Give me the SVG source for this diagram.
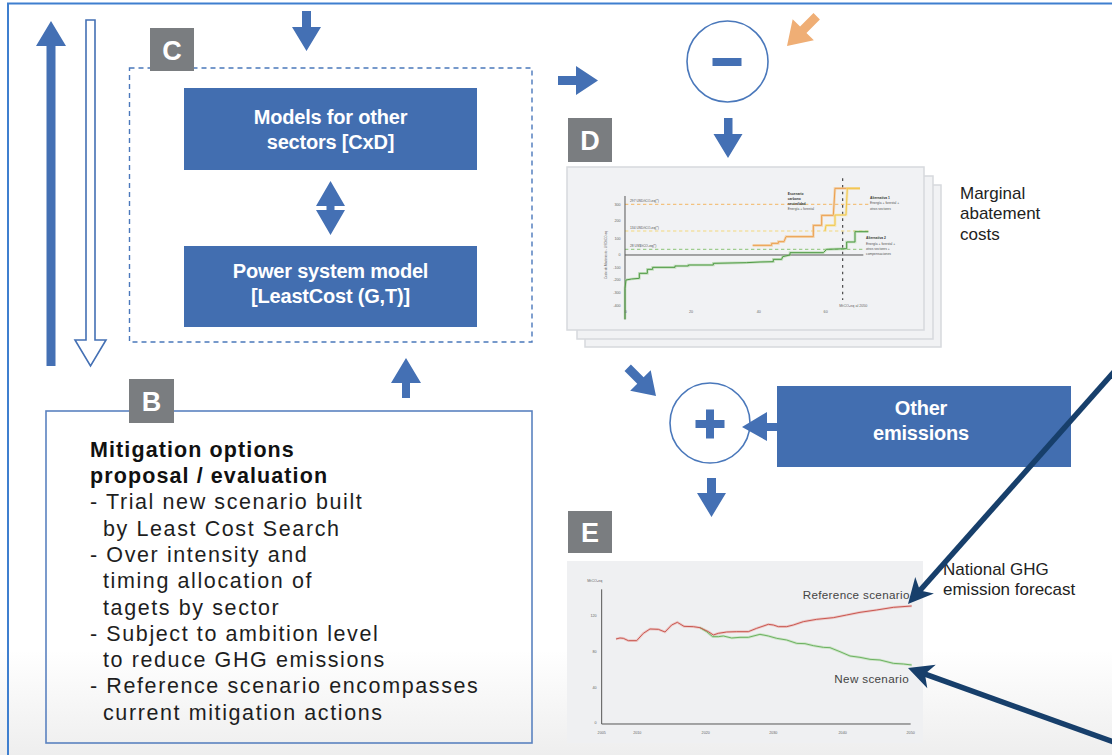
<svg xmlns="http://www.w3.org/2000/svg" width="1112" height="755" viewBox="0 0 1112 755">
  <style>
    .blue { fill: #4470b4; }
    .box { fill: #426eb0; }
    .boxtxt { font-family: "Liberation Sans", Arial, sans-serif; font-weight: bold; font-size: 20px; fill: #ffffff; text-anchor: middle; letter-spacing: -0.2px; }
    .badge { fill: #7a7d80; }
    .badgetxt { font-family: "Liberation Sans", Arial, sans-serif; font-weight: bold; font-size: 27px; fill: #ffffff; text-anchor: middle; }
    .ring { fill: none; stroke: #4a78bb; stroke-width: 1.6; }
    .card { fill: #f1f2f4; stroke: #d6d9dd; stroke-width: 1.5; }
    .body { font-family: "Liberation Sans", Arial, sans-serif; font-size: 21.5px; fill: #1e1e1e; letter-spacing: 1.6px; }
    .title { font-family: "Liberation Sans", Arial, sans-serif; font-size: 21.5px; font-weight: bold; fill: #111111; letter-spacing: 1.1px; }
    .side { font-family: "Liberation Sans", Arial, sans-serif; font-size: 17px; fill: #222222; }
    .tick { font-family: "Liberation Sans", Arial, sans-serif; font-size: 11px; fill: #666666; }
    .note { font-family: "Liberation Sans", Arial, sans-serif; font-size: 10px; fill: #555555; }
    .noteb { font-family: "Liberation Sans", Arial, sans-serif; font-size: 10px; fill: #333333; font-weight: bold; }
    .axis { stroke: #555555; stroke-width: 3; fill: none; }
    .navy { stroke: #173f6b; stroke-width: 5.5; fill: none; }
    .navyhead { fill: #173f6b; }
  </style>
  <defs>
    <linearGradient id="floor" x1="0" y1="0" x2="0" y2="1">
      <stop offset="0" stop-color="#ffffff"/>
      <stop offset="1" stop-color="#eeeeee"/>
    </linearGradient>
  </defs>

  <!-- page background with soft floor shading -->
  <rect x="0" y="0" width="1112" height="755" fill="#ffffff"/>
  <rect x="0" y="650" width="1112" height="105" fill="url(#floor)"/>

  <!-- outer frame -->
  <path d="M8,755 L8,3.5 L1112,3.5" fill="none" stroke="#3f7fcf" stroke-width="2"/>

  <!-- left-hand loop arrows -->
  <g id="loop-up">
    <polygon class="blue" points="51,21 66,46 55.5,46 55.5,366 46.5,366 46.5,46 36,46"/>
  </g>
  <g id="loop-down">
    <polygon points="86,20 95,20 95,340 106,340 90.5,366 75,340 86,340" fill="#ffffff" stroke="#4470b4" stroke-width="1.6"/>
  </g>

  <!-- C: sector models -->
  <g id="group-c">
    <rect x="129.5" y="68" width="402.5" height="274" fill="none" stroke="#4a78bb" stroke-width="1.4" stroke-dasharray="5,4"/>
    <rect class="badge" x="150" y="28" width="44" height="43"/>
    <text class="badgetxt" x="172" y="59.5">C</text>
  </g>
  <g id="models-other">
    <rect class="box" x="184" y="88" width="293" height="82"/>
    <text class="boxtxt" x="330.5" y="124">Models for other</text>
    <text class="boxtxt" x="330.5" y="149">sectors [CxD]</text>
  </g>
  <g id="power-model">
    <rect class="box" x="184" y="246" width="293" height="81"/>
    <text class="boxtxt" x="330.5" y="278">Power system model</text>
    <text class="boxtxt" x="330.5" y="303">[LeastCost (G,T)]</text>
  </g>

  <!-- B: mitigation options -->
  <g id="group-b">
    <rect x="46" y="411" width="486" height="332" fill="none" stroke="#5b82c0" stroke-width="1.6"/>
    <rect class="badge" x="129" y="379" width="45" height="44"/>
    <text class="badgetxt" x="151.5" y="411">B</text>
    <text class="title" x="90" y="457">Mitigation options</text>
    <text class="title" x="90" y="483">proposal / evaluation</text>
    <text class="body" x="90" y="509">- Trial new scenario built</text>
    <text class="body" x="103" y="536">by Least Cost Search</text>
    <text class="body" x="90" y="562">- Over intensity and</text>
    <text class="body" x="103" y="588">timing allocation of</text>
    <text class="body" x="103" y="615">tagets by sector</text>
    <text class="body" x="90" y="641">- Subject to ambition level</text>
    <text class="body" x="103" y="667">to reduce GHG emissions</text>
    <text class="body" x="90" y="693">- Reference scenario encompasses</text>
    <text class="body" x="103" y="720">current mitigation actions</text>
  </g>

  <!-- minus junction -->
  <g id="minus">
    <circle class="ring" cx="727.5" cy="61.5" r="40.5"/>
    <rect class="blue" x="712.5" y="58" width="29" height="8"/>
  </g>

  <!-- D: marginal abatement cost curves -->
  <g id="group-d">
    <rect class="badge" x="568" y="118" width="44" height="44"/>
    <text class="badgetxt" x="590" y="149.5">D</text>
    <rect class="card" x="585" y="185" width="356" height="162"/>
    <rect class="card" x="577" y="176" width="356" height="163"/>
    <rect class="card" x="567" y="167" width="357" height="163"/>
    <g transform="translate(560,160) scale(0.33333)">
      <!-- price reference levels -->
      <line x1="195" y1="133" x2="925" y2="133" stroke="#f3c27f" stroke-width="3.5" stroke-dasharray="10,8"/>
      <line x1="195" y1="213" x2="925" y2="213" stroke="#f4d77c" stroke-width="3.5" stroke-dasharray="10,8"/>
      <line x1="195" y1="268" x2="910" y2="268" stroke="#9fcd8f" stroke-width="3.5" stroke-dasharray="10,8"/>
      <line x1="848" y1="55" x2="848" y2="420" stroke="#444444" stroke-width="3.5" stroke-dasharray="8,12"/>
      <line class="axis" x1="195" y1="108" x2="195" y2="478"/>
      <line class="axis" x1="195" y1="285" x2="910" y2="285" stroke-width="4"/>
      <!-- cost curves -->
      <path d="M195,478 L195,385 L198,360 L215,357 L238,355 L238,340 L262,340 L262,328 L278,328 L278,322 L345,322 L345,318 L385,318 L385,315 L460,315 L460,310 L560,308 L600,306 L640,305 L640,298 L665,298 L668,290 L690,285 L690,278 L790,278 L800,268 L860,266 L860,246 L885,246 L885,215 L925,215" fill="none" stroke="#9cce8c" stroke-width="8" stroke-opacity="0.5"/>
      <path d="M195,478 L195,385 L198,360 L215,357 L238,355 L238,340 L262,340 L262,328 L278,328 L278,322 L345,322 L345,318 L385,318 L385,315 L460,315 L460,310 L560,308 L600,306 L640,305 L640,298 L665,298 L668,290 L690,285 L690,278 L790,278 L800,268 L860,266 L860,246 L885,246 L885,215 L925,215" fill="none" stroke="#4f9a45" stroke-width="3"/>
      <path d="M578,256 L635,256 L635,250 L655,250 L655,245 L672,245 L678,230 L760,230 L760,196 L785,196 L785,166 L820,166 L825,85 L900,85" fill="none" stroke="#f3c48a" stroke-width="8" stroke-opacity="0.6"/>
      <path d="M578,256 L635,256 L635,250 L655,250 L655,245 L672,245 L678,230 L760,230 L760,196 L785,196 L785,166 L820,166 L825,85 L900,85" fill="none" stroke="#ec9f4c" stroke-width="3"/>
      <path d="M795,213 L798,196 L825,196 L825,165 L858,165 L862,85 L900,85" fill="none" stroke="#f6dc8a" stroke-width="8" stroke-opacity="0.6"/>
      <path d="M795,213 L798,196 L825,196 L825,165 L858,165 L862,85 L900,85" fill="none" stroke="#f2c84a" stroke-width="3"/>
      <!-- axis labels -->
      <g class="tick" style="font-size:11px" text-anchor="end">
        <text x="182" y="137">300</text>
        <text x="182" y="187">200</text>
        <text x="182" y="239">100</text>
        <text x="182" y="289">0</text>
        <text x="182" y="327">-100</text>
        <text x="182" y="364">-200</text>
        <text x="182" y="402">-300</text>
        <text x="182" y="440">-400</text>
      </g>
      <g class="tick" style="font-size:11px" text-anchor="middle">
        <text x="197" y="458">0</text>
        <text x="393" y="458">20</text>
        <text x="596" y="458">40</text>
        <text x="797" y="458">60</text>
      </g>
      <text class="tick" style="font-size:11px" x="838" y="441">MtCO₂eq al 2050</text>
      <text class="tick" style="font-size:9px" text-anchor="middle" transform="translate(142,285) rotate(-90)">Costo de Abatimiento - USD/tCO₂eq</text>
      <text class="note" x="210" y="126">297 USD/tCO₂eq(*)</text>
      <text class="note" x="210" y="208">134 USD/tCO₂eq(*)</text>
      <text class="note" x="210" y="260">28 US$/tCO₂eq(*)</text>
      <text class="noteb" x="683" y="105">Escenario</text>
      <text class="noteb" x="683" y="120">carbono</text>
      <text class="noteb" x="683" y="135">neutralidad</text>
      <text class="note" x="683" y="151">Energía + forestal</text>
      <text class="noteb" x="930" y="117">Alternativa 1</text>
      <text class="note" x="930" y="133">Energía + forestal +</text>
      <text class="note" x="930" y="149">otros sectores</text>
      <text class="noteb" x="918" y="238">Alternativa 2</text>
      <text class="note" x="918" y="254">Energía + forestal +</text>
      <text class="note" x="918" y="269">otros sectores +</text>
      <text class="note" x="918" y="285">compensaciones</text>
    </g>
  </g>
  <g id="label-mac">
    <text class="side" x="960" y="199">Marginal</text>
    <text class="side" x="960" y="219">abatement</text>
    <text class="side" x="960" y="240">costs</text>
  </g>

  <!-- plus junction -->
  <g id="plus">
    <circle class="ring" cx="710" cy="423" r="40"/>
    <rect class="blue" x="695.5" y="420" width="29" height="8"/>
    <rect class="blue" x="706" y="409.5" width="8" height="29"/>
  </g>
  <g id="other-emissions">
    <rect class="box" x="777" y="386" width="294" height="81"/>
    <text class="boxtxt" x="921" y="415">Other</text>
    <text class="boxtxt" x="921" y="440">emissions</text>
  </g>

  <!-- E: national emission trajectories -->
  <g id="group-e">
    <rect class="badge" x="568" y="511" width="44" height="42"/>
    <text class="badgetxt" x="590" y="541.5">E</text>
    <rect x="567" y="561" width="356" height="182" fill="#eff0f2"/>
    <g transform="translate(560,550) scale(0.33333)">
      <line class="axis" x1="125" y1="118" x2="125" y2="522" stroke="#444444"/>
      <line class="axis" x1="125" y1="522" x2="1052" y2="522" stroke="#444444"/>
      <path d="M168,267 L180,264 L190,265 L205,272 L230,272 L250,250 L270,237 L295,238 L315,246 L335,225 L352,217 L372,229 L400,230 L420,233 L445,245 L460,255 L475,250 L500,246 L530,245 L565,245 L590,235 L625,223 L640,225 L655,230 L680,230 L700,225 L730,215 L770,208 L820,203 L860,195 L900,187 L950,180 L1000,172 L1055,168" fill="none" stroke="#eab0ad" stroke-width="8" stroke-opacity="0.6"/>
      <path d="M420,233 L440,245 L458,260 L475,260 L490,258 L515,264 L540,262 L565,262 L600,253 L625,258 L650,265 L680,270 L710,280 L735,281 L760,287 L790,292 L810,293 L840,305 L870,318 L900,322 L930,328 L960,330 L1000,340 L1030,342 L1055,345" fill="none" stroke="#b6dcab" stroke-width="8" stroke-opacity="0.6"/>
      <path d="M420,233 L440,245 L458,260 L475,260 L490,258 L515,264 L540,262 L565,262 L600,253 L625,258 L650,265 L680,270 L710,280 L735,281 L760,287 L790,292 L810,293 L840,305 L870,318 L900,322 L930,328 L960,330 L1000,340 L1030,342 L1055,345" fill="none" stroke="#6cb261" stroke-width="3"/>
      <path d="M168,267 L180,264 L190,265 L205,272 L230,272 L250,250 L270,237 L295,238 L315,246 L335,225 L352,217 L372,229 L400,230 L420,233 L445,245 L460,255 L475,250 L500,246 L530,245 L565,245 L590,235 L625,223 L640,225 L655,230 L680,230 L700,225 L730,215 L770,208 L820,203 L860,195 L900,187 L950,180 L1000,172 L1055,168" fill="none" stroke="#c9564f" stroke-width="3"/>
      <text class="tick" style="font-size:11px" x="82" y="95">MtCO₂eq</text>
      <g class="tick" style="font-size:11px" text-anchor="end">
        <text x="110" y="200">120</text>
        <text x="110" y="310">80</text>
        <text x="110" y="416">40</text>
        <text x="110" y="523">0</text>
      </g>
      <g class="tick" style="font-size:11px" text-anchor="middle">
        <text x="125" y="552">2005</text>
        <text x="232" y="552">2010</text>
        <text x="437" y="552">2020</text>
        <text x="640" y="552">2030</text>
        <text x="848" y="552">2040</text>
        <text x="1052" y="552">2050</text>
      </g>
      <text x="728" y="148" font-family="Liberation Sans, Arial, sans-serif" font-size="35" fill="#444444" letter-spacing="1">Reference scenario</text>
      <text x="823" y="398" font-family="Liberation Sans, Arial, sans-serif" font-size="35" fill="#444444" letter-spacing="1">New scenario</text>
    </g>
  </g>
  <g id="label-ghg">
    <text class="side" x="943" y="575">National GHG</text>
    <text class="side" x="943" y="595">emission forecast</text>
  </g>

  <!-- connectors -->
  <g id="connectors">
    <!-- into C from above -->
    <polygon class="blue" points="302,11 311,11 311,27 321,27 306.5,51 292,27 302,27"/>
    <!-- two-way link between the sector models and the power model -->
    <polygon class="blue" points="330.5,181 345,206 334.5,206 334.5,210 345,210 330.5,235 316,210 326.5,210 326.5,206 316,206"/>
    <line x1="318" y1="208" x2="326" y2="208" stroke="#ffffff" stroke-width="1.6"/>
    <line x1="335" y1="208" x2="343" y2="208" stroke="#ffffff" stroke-width="1.6"/>
    <!-- C up from B -->
    <polygon class="blue" points="406,358 421,383 410,383 410,398 402,398 402,383 391,383"/>
    <!-- C to minus -->
    <polygon class="blue" points="558,76 576,76 576,66 598,80.5 576,95 576,85 558,85"/>
    <!-- orange input to minus -->
    <g transform="translate(787,46) rotate(135)">
      <polygon points="0,0 -23,-15 -23,-4.5 -42,-4.5 -42,4.5 -23,4.5 -23,15" fill="#efae75"/>
    </g>
    <!-- minus to D -->
    <polygon class="blue" points="724,118 732.5,118 732.5,134 742.5,134 728,158 713.5,134 724,134"/>
    <!-- D to plus -->
    <g transform="translate(656,396) rotate(45)">
      <polygon class="blue" points="0,0 -22,-14.5 -22,-4.5 -40,-4.5 -40,4.5 -22,4.5 -22,14.5"/>
    </g>
    <!-- other emissions to plus -->
    <polygon class="blue" points="742,427 767,412 767,423 777,423 777,431 767,431 767,441"/>
    <!-- plus to E -->
    <polygon class="blue" points="707,478 716,478 716,493 726,493 711.5,517 697,493 707,493"/>
    <!-- forecast pointers -->
    <g transform="translate(908,604) rotate(131.6)">
      <line class="navy" x1="-330" y1="0" x2="-16" y2="0"/>
      <polygon class="navyhead" points="0,0 -25,-12.5 -18,0 -25,12.5"/>
    </g>
    <g transform="translate(908,668) rotate(199.8)">
      <line class="navy" x1="-230" y1="0" x2="-16" y2="0"/>
      <polygon class="navyhead" points="0,0 -25,-12.5 -18,0 -25,12.5"/>
    </g>
  </g>
</svg>
